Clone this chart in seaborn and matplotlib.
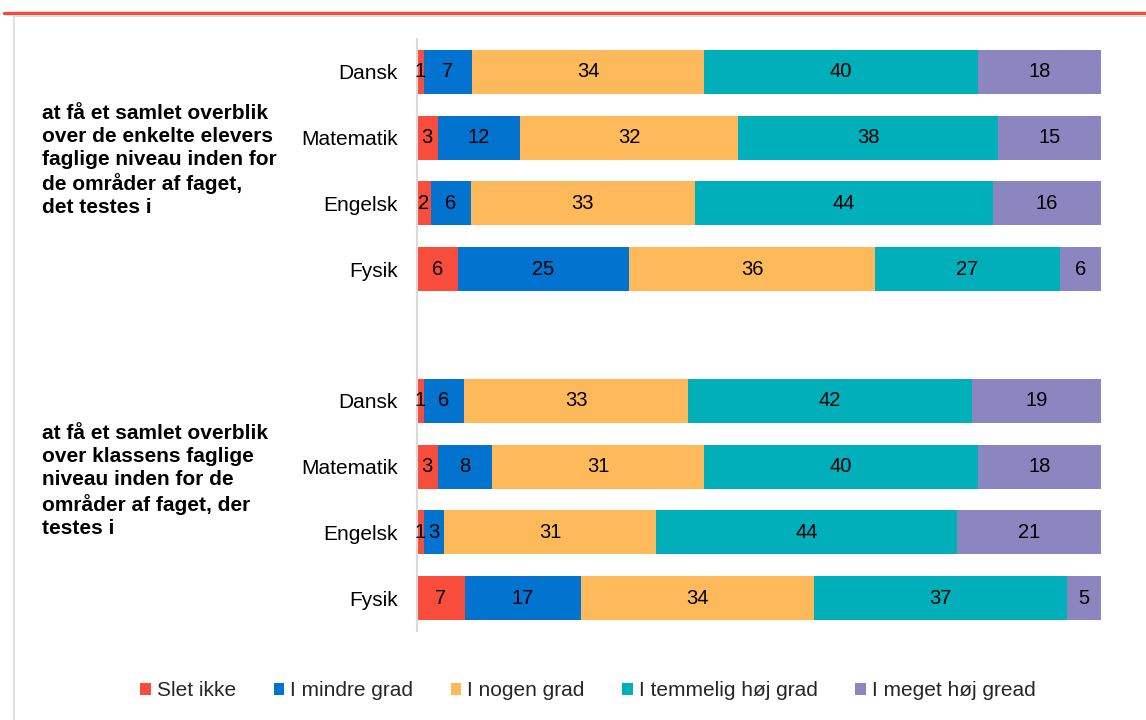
import numpy as np
import pandas as pd
import seaborn as sns
import matplotlib.pyplot as plt
import matplotlib.transforms as mtransforms
from matplotlib.patches import Patch
from matplotlib.lines import Line2D

subjects = ["Dansk", "Matematik", "Engelsk", "Fysik"]
categories = ["Slet ikke", "I mindre grad", "I nogen grad", "I temmelig høj grad", "I meget høj gread"]
colors = ["#F84C3C", "#0274CF", "#FDB95A", "#00AFB9", "#8B86BF"]
group_labels = [
    "at få et samlet overblik\nover de enkelte elevers\nfaglige niveau inden for\nde områder af faget,\ndet testes i",
    "at få et samlet overblik\nover klassens faglige\nniveau inden for de\nområder af faget, der\ntestes i",
]

g1_slet = [1, 3, 2, 6]
g1_mindre = [7, 12, 6, 25]
g1_nogen = [34, 32, 33, 36]
g1_temmelig = [40, 38, 44, 27]
g1_meget = [18, 15, 16, 6]

g2_slet = [1, 3, 1, 7]
g2_mindre = [6, 8, 3, 17]
g2_nogen = [33, 31, 31, 34]
g2_temmelig = [42, 40, 44, 37]
g2_meget = [19, 18, 21, 5]

groups = [
    [g1_slet, g1_mindre, g1_nogen, g1_temmelig, g1_meget],
    [g2_slet, g2_mindre, g2_nogen, g2_temmelig, g2_meget],
]

rows = []
for gi, series in enumerate(groups):
    for si, subj in enumerate(subjects):
        vals = [s[si] for s in series]
        rows.append({"key": f"{gi}_{subj}", "subject": subj, **{f"v{k}": v for k, v in enumerate(vals)}})
df = pd.DataFrame(rows)
vcols = [f"v{k}" for k in range(5)]
total = df[vcols].sum(axis=1)
for k in range(5):
    df[f"p{k}"] = df[f"v{k}"] / total * 100
    df[f"cum{k}"] = df[[f"p{j}" for j in range(k + 1)]].sum(axis=1)

order = [f"0_{s}" for s in subjects] + ["gap"] + [f"1_{s}" for s in subjects]
ticklabels = subjects + [""] + subjects

sns.set_theme(style="white")
plt.rcParams["font.family"] = ["Liberation Sans", "DejaVu Sans"]

fig = plt.figure(figsize=(11.46, 7.2), dpi=100)
ax = fig.add_axes([417 / 1146, 1 - 631 / 720, (1101 - 417) / 1146, (631 - 39) / 720])

for k in reversed(range(5)):
    sns.barplot(data=df, x=f"cum{k}", y="key", order=order, color=colors[k],
                width=0.67, orient="h", ax=ax, linewidth=0, saturation=1,
                errorbar=None)

for _, r in df.iterrows():
    ypos = order.index(r["key"])
    for k in range(5):
        xc = r[f"cum{k}"] - r[f"p{k}"] / 2
        ax.text(xc, ypos, str(int(r[f"v{k}"])), ha="center", va="center",
                fontsize=14.5, color="black")

ax.set_xlim(0, 100)
ax.set_ylim(8.5, -0.5)
ax.set_xlabel("")
ax.set_ylabel("")
ax.set_xticks([])
ax.set_yticks(range(len(order)))
ax.set_yticklabels(ticklabels, fontsize=15, color="black")
ax.tick_params(axis="y", length=0, pad=14)
for side in ["top", "right", "bottom"]:
    ax.spines[side].set_visible(False)
ax.spines["left"].set_color("#D9D9D9")
ax.spines["left"].set_linewidth(1.5)

trans = mtransforms.blended_transform_factory(fig.transFigure, ax.transData)
ax.text(42 / 1146, 1.35, group_labels[0], transform=trans, ha="left", va="center",
        fontsize=15, fontweight="bold", linespacing=1.26, color="black")
ax.text(42 / 1146, 6.22, group_labels[1], transform=trans, ha="left", va="center",
        fontsize=15, fontweight="bold", linespacing=1.26, color="black")

handles = [Patch(facecolor=c, edgecolor="none", label=l) for c, l in zip(colors, categories)]
fig.legend(handles=handles, loc="center", bbox_to_anchor=(588 / 1146, 1 - 691 / 720),
           ncol=5, frameon=False, fontsize=15, handlelength=0.5, handleheight=0.5,
           handletextpad=0.3, columnspacing=1.8)

fig.add_artist(Line2D([4 / 1146, 1], [1 - 12.5 / 720] * 2, transform=fig.transFigure,
                      color="#F44B3B", lw=2.4))
fig.add_artist(Line2D([14 / 1146, 1], [1 - 15.5 / 720] * 2, transform=fig.transFigure,
                      color="#D9D9D9", lw=1.2))
fig.add_artist(Line2D([14 / 1146] * 2, [0, 1 - 15.5 / 720], transform=fig.transFigure,
                      color="#D9D9D9", lw=1.2))

fig.savefig("out.png", dpi=100)
